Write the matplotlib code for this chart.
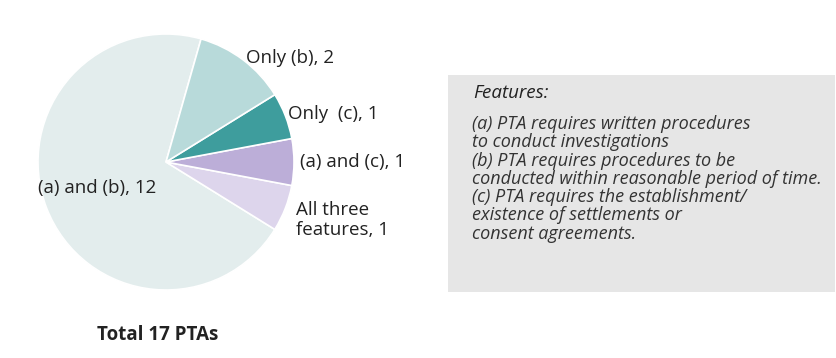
import matplotlib
matplotlib.use("Agg")
import matplotlib.pyplot as plt
from matplotlib.patches import Rectangle

# Data
categories = ["(a) and (b)", "All three\nfeatures", "(a) and (c)", "Only  (c)", "Only (b)"]
counts = [12, 1, 1, 1, 2]
colors = ["#e3eded", "#ddd5ec", "#bcaed8", "#3e9d9d", "#b8dada"]
total_label = "Total 17 PTAs"
features_title = "Features:"
features_text = ("(a) PTA requires written procedures\n"
                 "to conduct investigations\n"
                 "(b) PTA requires procedures to be\n"
                 "conducted within reasonable period of time.\n"
                 "(c) PTA requires the establishment/\n"
                 "existence of settlements or\n"
                 "consent agreements.")

W, H = 837, 358
fig = plt.figure(figsize=(W / 100, H / 100), dpi=100)
fig.patch.set_facecolor("white")

def fx(px):
    return px / W

def fy(py):
    return 1 - py / H

cx, cy, r = 166, 162, 128
ax = fig.add_axes([fx(cx - r), fy(cy + r), 2 * r / W, 2 * r / H])
ax.pie(counts, colors=colors, startangle=74.1, counterclock=True,
       wedgeprops=dict(edgecolor="white", linewidth=1.2))
ax.set_xlim(-1, 1)
ax.set_ylim(-1, 1)
ax.set_aspect("equal")
ax.axis("off")

font = "Open Sans"
lab_size = 13.5
labels_pos = [(38, 188), (296, 220), (300, 162), (288, 114), (246, 58)]
for cat, n, (px, py) in zip(categories, counts, labels_pos):
    fig.text(fx(px), fy(py), f"{cat}, {n}", fontsize=lab_size, family=font,
             color="#222222", ha="left", va="center", linespacing=1.15)

fig.text(fx(97), fy(335), total_label, fontsize=13.5, family=font,
         fontweight="bold", color="#222222", ha="left", va="center")

# Features box
box = Rectangle((fx(448), fy(292)), fx(835) - fx(448), fy(75) - fy(292),
                transform=fig.transFigure, facecolor="#e6e6e6", edgecolor="none")
fig.patches.append(box)
fig.text(fx(473), fy(93), features_title, fontsize=13.5, family=font,
         style="italic", color="#222222", ha="left", va="center")
fig.text(fx(472), fy(115), features_text, fontsize=13, family=font,
         style="italic", color="#333333", ha="left", va="top", linespacing=1.02)

fig.savefig("out.png", dpi=100)
